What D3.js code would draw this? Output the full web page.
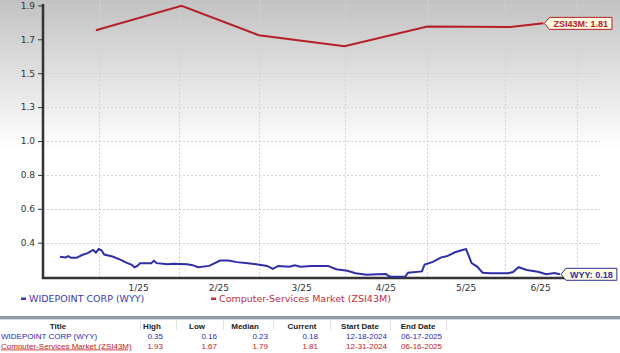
<!DOCTYPE html>
<html>
<head>
<meta charset="utf-8">
<script src="https://cdn.jsdelivr.net/npm/d3@7"></script>
<style>
  body { margin: 0; background: #fff; }
  svg { display: block; }
</style>
</head>
<body>
<svg id="chart" width="620" height="353"></svg>
<script>
// WYY daily-ish closes
const wyyDates = ['2024-12-18','2024-12-20','2024-12-21','2024-12-22','2024-12-24','2024-12-26','2024-12-28','2024-12-30','2024-12-31',
  '2025-01-01','2025-01-02','2025-01-03','2025-01-06','2025-01-09','2025-01-11','2025-01-13','2025-01-14','2025-01-15','2025-01-16',
  '2025-01-20','2025-01-21','2025-01-22','2025-01-26','2025-01-28','2025-02-02','2025-02-04','2025-02-06','2025-02-10','2025-02-14',
  '2025-02-17','2025-02-20','2025-02-24','2025-02-27','2025-03-03','2025-03-05','2025-03-07','2025-03-11','2025-03-13','2025-03-15',
  '2025-03-19','2025-03-25','2025-03-28','2025-04-01','2025-04-04','2025-04-08','2025-04-12','2025-04-15','2025-04-16','2025-04-17',
  '2025-04-22','2025-04-23','2025-04-28','2025-04-29','2025-05-02','2025-05-05','2025-05-07','2025-05-10','2025-05-13','2025-05-14',
  '2025-05-16','2025-05-18','2025-05-20','2025-05-23','2025-05-26','2025-05-29','2025-05-31','2025-06-02','2025-06-05','2025-06-09',
  '2025-06-12','2025-06-15','2025-06-17'];
const wyyValues = [0.303,0.298,0.308,0.296,0.296,0.315,0.328,0.350,0.332,
  0.356,0.348,0.318,0.305,0.282,0.263,0.247,0.231,0.240,0.259,
  0.259,0.275,0.259,0.252,0.254,0.252,0.245,0.231,0.240,0.277,
  0.277,0.266,0.259,0.252,0.240,0.219,0.240,0.235,0.245,0.235,
  0.240,0.240,0.217,0.207,0.189,0.179,0.182,0.184,0.170,0.166,
  0.167,0.193,0.202,0.250,0.268,0.299,0.306,0.334,0.351,0.356,
  0.259,0.235,0.193,0.189,0.189,0.189,0.198,0.231,0.212,0.200,
  0.182,0.191,0.182];

// Computer-Services Market industry, month-end points
const zsiDates = ['2024-12-31','2025-01-31','2025-02-28','2025-03-31','2025-04-30','2025-05-30','2025-06-11'];
const zsiValues = [1.753,1.898,1.724,1.659,1.776,1.773,1.794];

const yTicks = [0.4, 0.6, 0.8, 1.0, 1.3, 1.5, 1.7, 1.9];
const yFloor = 0.16;
const gridDates = ['2025-01-01','2025-01-30','2025-02-28','2025-03-31','2025-04-30','2025-05-28','2025-06-23'];
const monthLabels = ['1/25','2/25','3/25','4/25','5/25','6/25'];

const tableHeaders = ['Title','High','Low','Median','Current','Start Date','End Date'];
const wyyRow = ['WIDEPOINT CORP (WYY)','0.35','0.16','0.23','0.18','12-18-2024','06-17-2025'];
const zsiRow = ['Computer-Services Market (ZSI43M)','1.93','1.67','1.79','1.81','12-31-2024','06-16-2025'];

const parse = d3.timeParse('%Y-%m-%d');
const blue = '#2e2ea6', red = '#b52028';

const svg = d3.select('#chart');

// background gradient at the top
const defs = svg.append('defs');
const grad = defs.append('linearGradient').attr('id', 'bg').attr('x1', 0).attr('y1', 0).attr('x2', 0).attr('y2', 1);
grad.append('stop').attr('offset', '0%').attr('stop-color', '#c2c2c2');
grad.append('stop').attr('offset', '100%').attr('stop-color', '#ffffff');
svg.append('rect').attr('x', 0).attr('y', 0).attr('width', 620).attr('height', 150).attr('fill', 'url(#bg)');

const left = 43, right = 600, bottom = 278;

const x = d3.scaleTime()
  .domain([parse('2024-12-18'), parse('2025-06-17')])
  .range([60, 560]);

const step = 33.9;
const y = d3.scaleLinear()
  .domain([yFloor].concat(yTicks))
  .range([277.5].concat(yTicks.map((t, i) => 242.7 - i * step)));

// grid
const grid = svg.append('g').attr('stroke', '#d2d2d2').attr('stroke-dasharray', '2,2').attr('stroke-width', 1);
grid.selectAll('line.h').data(yTicks).enter().append('line')
  .attr('x1', left).attr('x2', right)
  .attr('y1', d => Math.round(y(d)) + 0.5).attr('y2', d => Math.round(y(d)) + 0.5);
grid.selectAll('line.v').data(gridDates).enter().append('line')
  .attr('x1', d => Math.round(x(parse(d))) + 0.5).attr('x2', d => Math.round(x(parse(d))) + 0.5)
  .attr('y1', 0).attr('y2', bottom);

// y axis
const yAxis = d3.axisLeft(y).tickValues(yTicks).tickFormat(d3.format('.1f')).tickSize(5).tickPadding(3);
const yg = svg.append('g').attr('transform', `translate(${left},0)`).call(yAxis);
yg.select('.domain').remove();
yg.selectAll('.tick line').attr('stroke', '#333');
yg.selectAll('.tick text').attr('fill', '#333').style('font', '9px "DejaVu Sans", sans-serif');

svg.append('line').attr('x1', left).attr('x2', left).attr('y1', 4).attr('y2', bottom + 1)
  .attr('stroke', '#333').attr('stroke-width', 2.5);
svg.append('line').attr('x1', left - 1).attr('x2', right).attr('y1', bottom).attr('y2', bottom)
  .attr('stroke', '#333').attr('stroke-width', 2.5);

// month labels between gridlines
svg.selectAll('text.month').data(monthLabels).enter().append('text')
  .attr('x', (d, i) => (x(parse(gridDates[i])) + x(parse(gridDates[i + 1]))) / 2)
  .attr('y', 291)
  .attr('text-anchor', 'middle')
  .attr('fill', '#333')
  .style('font', '9px "DejaVu Sans", sans-serif')
  .text(d => d);

// lines
const line = d3.line().x(d => x(d[0])).y(d => y(d[1]));
const wyy = wyyDates.map((d, i) => [parse(d), wyyValues[i]]);
const zsi = zsiDates.map((d, i) => [parse(d), zsiValues[i]]);

svg.append('path').datum(zsi).attr('d', line).attr('fill', 'none').attr('stroke', red).attr('stroke-width', 2);
svg.append('path').datum(wyy).attr('d', line).attr('fill', 'none').attr('stroke', blue).attr('stroke-width', 2);

// end-value callouts
function callout(pt, label, color) {
  const px = x(pt[0]) + 1, py = y(pt[1]);
  const g = svg.append('g');
  const t = g.append('text').attr('x', px + 9).attr('y', py + 3.5)
    .attr('fill', color).style('font', 'bold 9px "Liberation Sans", Arial, sans-serif').text(label);
  const w = t.node().getComputedTextLength();
  const h = 6;
  g.insert('path', 'text')
    .attr('d', `M${px},${py} L${px + 5},${py - h} H${px + w + 13} V${py + h} H${px + 5} Z`)
    .attr('fill', '#fffbe0').attr('stroke', color).attr('stroke-width', 1);
}
callout(zsi[zsi.length - 1], 'ZSI43M: 1.81', red);
callout(wyy[wyy.length - 1], 'WYY: 0.18', blue);

// legend
const legend = [
  { name: 'WIDEPOINT CORP (WYY)', color: '#3b3ba6', x: 21 },
  { name: 'Computer-Services Market (ZSI43M)', color: '#c0303a', x: 211 }
];
const lg = svg.selectAll('g.legend').data(legend).enter().append('g');
lg.append('rect').attr('x', d => d.x).attr('y', 297.5).attr('width', 5).attr('height', 2.5).attr('fill', d => d.color);
lg.append('text').attr('x', d => d.x + 8).attr('y', 302)
  .attr('fill', d => d.color).style('font', '9.5px "DejaVu Sans", sans-serif').text(d => d.name);

// summary table
svg.append('rect').attr('x', 0).attr('y', 316).attr('width', 620).attr('height', 3).attr('fill', '#8e9aa5');
svg.append('rect').attr('x', 0).attr('y', 319).attr('width', 620).attr('height', 1).attr('fill', '#d5dbe0');

const headX = [58, 152, 197, 245, 302, 360, 418];
const cellX = [1, 163, 217, 268, 318, 387, 442];
const sepX = [140, 176, 223, 273, 330, 390, 446];

svg.selectAll('line.sep').data(sepX).enter().append('line')
  .attr('x1', d => d + 0.5).attr('x2', d => d + 0.5).attr('y1', 320).attr('y2', 330)
  .attr('stroke', '#e2e2e2');

svg.selectAll('text.head').data(tableHeaders).enter().append('text')
  .attr('x', (d, i) => headX[i]).attr('y', 328.5).attr('text-anchor', 'middle')
  .attr('fill', '#222').style('font', 'bold 8px "Liberation Sans", Arial, sans-serif').text(d => d);

[[wyyRow, '#2a2ab0', 338.5], [zsiRow, '#c42020', 348.5]].forEach(([row, color, ty], r) => {
  svg.selectAll(null).data(row).enter().append('text')
    .attr('x', (d, i) => cellX[i]).attr('y', ty)
    .attr('text-anchor', (d, i) => i === 0 ? 'start' : 'end')
    .attr('fill', color)
    .style('font', '8px "Liberation Sans", Arial, sans-serif')
    .style('text-decoration', (d, i) => r === 1 && i === 0 ? 'underline' : 'none')
    .text(d => d);
});
</script>
</body>
</html>
